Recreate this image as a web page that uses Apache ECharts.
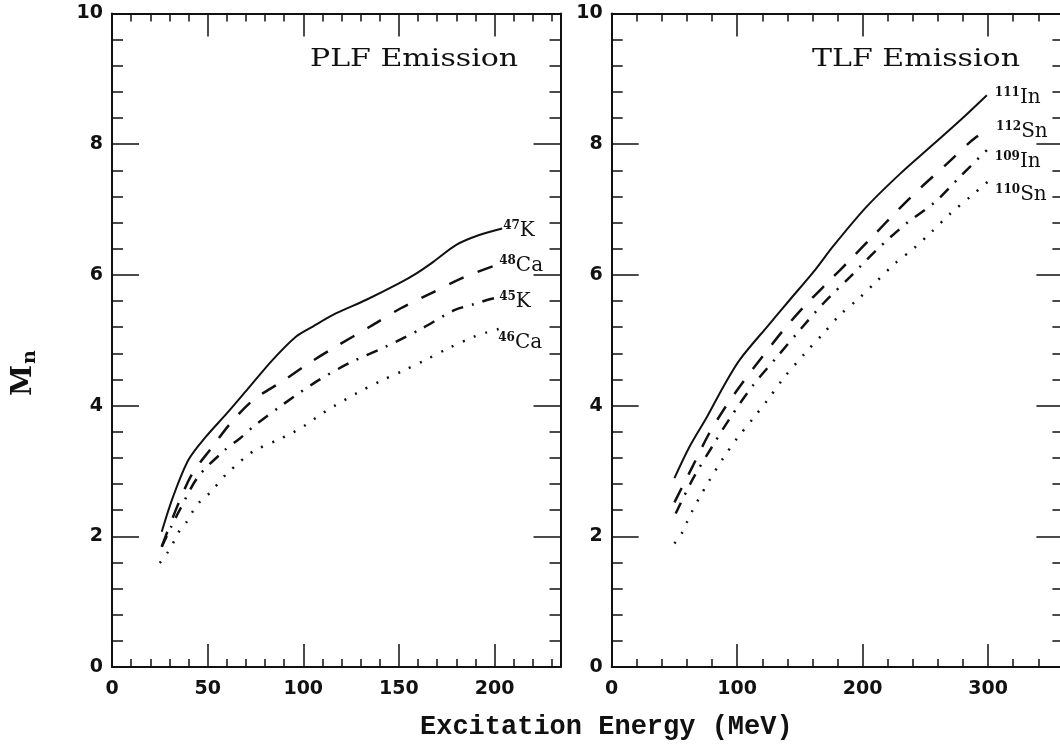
<!DOCTYPE html>
<html>
<head>
<meta charset="utf-8">
<script src="https://cdn.jsdelivr.net/npm/echarts@6/dist/echarts.min.js"></script>
<style>
html, body { margin: 0; padding: 0; background: #fff; }
#chart { width: 1060px; height: 745px; }
</style>
</head>
<body>
<div id="chart"></div>
<script>
// PLF emission curves (Excitation Energy MeV, Mn)
var k47 = [[26,2.07],[32,2.61],[40,3.17],[49,3.52],[60,3.88],[72,4.29],[84,4.70],[96,5.05],[105,5.21],[117,5.41],[133,5.62],[150,5.87],[159,6.02],[168,6.20],[180,6.46],[192,6.61],[204,6.71]];
var ca48 = [[26,1.84],[34,2.45],[42,2.96],[52,3.35],[62,3.73],[74,4.09],[89,4.37],[103,4.65],[118,4.92],[135,5.21],[151,5.49],[167,5.72],[183,5.95],[199,6.13],[204,6.17]];
var k45 = [[26,1.84],[31,2.15],[35,2.38],[45,2.91],[59,3.32],[67,3.50],[74,3.68],[90,4.03],[107,4.37],[124,4.65],[143,4.90],[152,5.03],[162,5.18],[179,5.46],[189,5.55],[198,5.63],[204,5.67]];
var ca46 = [[25,1.59],[29,1.75],[32,1.90],[35,2.07],[39,2.22],[42,2.37],[46,2.53],[51,2.66],[60,2.96],[65,3.09],[70,3.22],[75,3.32],[87,3.48],[94,3.58],[100,3.68],[105,3.78],[110,3.88],[116,3.99],[128,4.19],[140,4.37],[152,4.53],[164,4.70],[176,4.88],[189,5.05],[196,5.12],[203,5.18]];

// TLF emission curves
var in111 = [[50,2.89],[62,3.37],[76,3.83],[89,4.29],[102,4.70],[124,5.21],[142,5.62],[161,6.05],[177,6.45],[203,7.04],[230,7.55],[257,8.01],[278,8.37],[299,8.75]];
var sn112 = [[50,2.52],[65,3.09],[77,3.55],[90,3.96],[105,4.37],[121,4.77],[137,5.16],[155,5.55],[174,5.92],[190,6.23],[209,6.61],[227,6.97],[246,7.33],[266,7.68],[286,8.04],[292,8.13]];
var in109 = [[51,2.35],[65,2.89],[80,3.37],[94,3.80],[113,4.32],[132,4.75],[151,5.18],[169,5.57],[190,5.97],[211,6.38],[235,6.79],[258,7.12],[279,7.53],[299,7.91]];
var sn110 = [[50,1.89],[56,2.05],[60,2.22],[64,2.38],[69,2.56],[78,2.86],[89,3.20],[100,3.50],[113,3.81],[124,4.08],[137,4.42],[154,4.80],[169,5.11],[182,5.39],[197,5.64],[211,5.90],[226,6.18],[241,6.41],[255,6.66],[270,6.94],[286,7.20],[300,7.43]];

var yTicks = [0, 2, 4, 6, 8, 10];
var plfLabels = ['47|K', '48|Ca', '45|K', '46|Ca'];
var tlfLabels = ['111|In', '112|Sn', '109|In', '110|Sn'];

var ink = '#111';
var chart = echarts.init(document.getElementById('chart'));

function xAxis(grid, max, major, split, pos, showLabel) {
    return {
        type: 'value', gridIndex: grid, position: pos, min: 0, max: max, interval: major,
        axisLine: { show: true, onZero: false, lineStyle: { color: ink, width: 2 } },
        axisTick: { show: true, inside: true, length: 23, lineStyle: { color: ink, width: 1.5 } },
        minorTick: { show: true, splitNumber: split, length: 8, lineStyle: { color: ink, width: 1.5 } },
        axisLabel: {
            show: showLabel, margin: 13, color: ink, fontFamily: 'DejaVu Sans', fontWeight: 'bold', fontSize: 19,
            formatter: function (v) { return v % major === 0 ? String(v) : ''; }
        },
        splitLine: { show: false }, minorSplitLine: { show: false }
    };
}

function yAxis(grid, pos, showLabel) {
    return {
        type: 'value', gridIndex: grid, position: pos, min: 0, max: 10, interval: 2,
        axisLine: { show: true, onZero: false, lineStyle: { color: ink, width: 2 } },
        axisTick: { show: true, inside: true, length: 27, lineStyle: { color: ink, width: 1.5 } },
        minorTick: { show: true, splitNumber: 5, length: 11, lineStyle: { color: ink, width: 1.5 } },
        axisLabel: {
            show: showLabel, margin: 9, color: ink, fontFamily: 'DejaVu Sans', fontWeight: 'bold', fontSize: 19,
            formatter: function (v) { return yTicks.indexOf(v) >= 0 ? String(v) : ''; }
        },
        splitLine: { show: false }
    };
}

var richStyle = {
    s: { fontFamily: 'DejaVu Serif', fontWeight: 'bold', fontSize: 12, lineHeight: 12, verticalAlign: 'top', color: ink },
    m: { fontFamily: 'DejaVu Serif', fontSize: 20, lineHeight: 22, color: ink }
};

function curve(name, data, xi, yi, dash, width, label, offset) {
    var parts = label.split('|');
    return {
        name: name, type: 'line', data: data, xAxisIndex: xi, yAxisIndex: yi,
        showSymbol: false, smooth: 0.3, silent: true,
        lineStyle: { color: ink, width: width, type: dash },
        endLabel: {
            show: true, distance: 0, offset: offset,
            formatter: '{s|' + parts[0] + '}{m|' + parts[1] + '}',
            rich: richStyle
        }
    };
}

function panelTitle(text, x) {
    return {
        type: 'text', x: x, y: 47, scaleX: 1.2,
        style: { text: text, fontFamily: 'DejaVu Serif', fontSize: 25, fill: ink }
    };
}

var option = {
    animation: false,
    backgroundColor: '#fff',
    grid: [
        { left: 112, top: 13.5, right: 499.5, bottom: 78, outerBoundsMode: 'none' },
        { left: 611.7, top: 13.5, right: -3.4, bottom: 78, outerBoundsMode: 'none' }
    ],
    xAxis: [
        xAxis(0, 234.5, 50, 5, 'bottom', true),
        xAxis(0, 234.5, 50, 5, 'top', false),
        xAxis(1, 360, 100, 5, 'bottom', true),
        xAxis(1, 360, 100, 5, 'top', false)
    ],
    yAxis: [
        yAxis(0, 'left', true),
        yAxis(0, 'right', false),
        yAxis(1, 'left', true),
        yAxis(1, 'right', false)
    ],
    graphic: [
        panelTitle('PLF Emission', 310),
        panelTitle('TLF Emission', 812),
        {
            type: 'text', x: 420, y: 714,
            style: { text: 'Excitation Energy (MeV)', fontFamily: 'Liberation Mono', fontWeight: 'bold', fontSize: 27, fill: ink }
        },
        {
            type: 'text', x: 10, y: 396, rotation: Math.PI / 2,
            style: {
                text: '{m|M}{s|n}', fill: ink,
                rich: {
                    m: { fontFamily: 'DejaVu Serif', fontWeight: 'bold', fontSize: 28, lineHeight: 30, verticalAlign: 'top', fill: ink },
                    s: { fontFamily: 'DejaVu Serif', fontWeight: 'bold', fontSize: 19, lineHeight: 30, verticalAlign: 'bottom', fill: ink, padding: [0, 0, 0, 1] }
                }
            }
        }
    ],
    series: [
        curve('47K', k47, 0, 0, 'solid', 2, plfLabels[0], [1, 2]),
        curve('48Ca', ca48, 0, 0, [16, 15], 2.5, plfLabels[1], [-3, 2]),
        curve('45K', k45, 0, 0, [12, 9, 2, 9], 2.5, plfLabels[2], [-3, 5]),
        curve('46Ca', ca46, 0, 0, [2, 10], 2.5, plfLabels[3], [-2, 14]),
        curve('111In', in111, 2, 2, 'solid', 2, tlfLabels[0], [8, 3]),
        curve('112Sn', sn112, 2, 2, [16, 15], 2.5, tlfLabels[1], [18, -4]),
        curve('109In', in109, 2, 2, [12, 9, 2, 9], 2.5, tlfLabels[2], [8, 12]),
        curve('110Sn', sn110, 2, 2, [2, 10], 2.5, tlfLabels[3], [7, 13])
    ]
};

chart.setOption(option);
</script>
</body>
</html>
